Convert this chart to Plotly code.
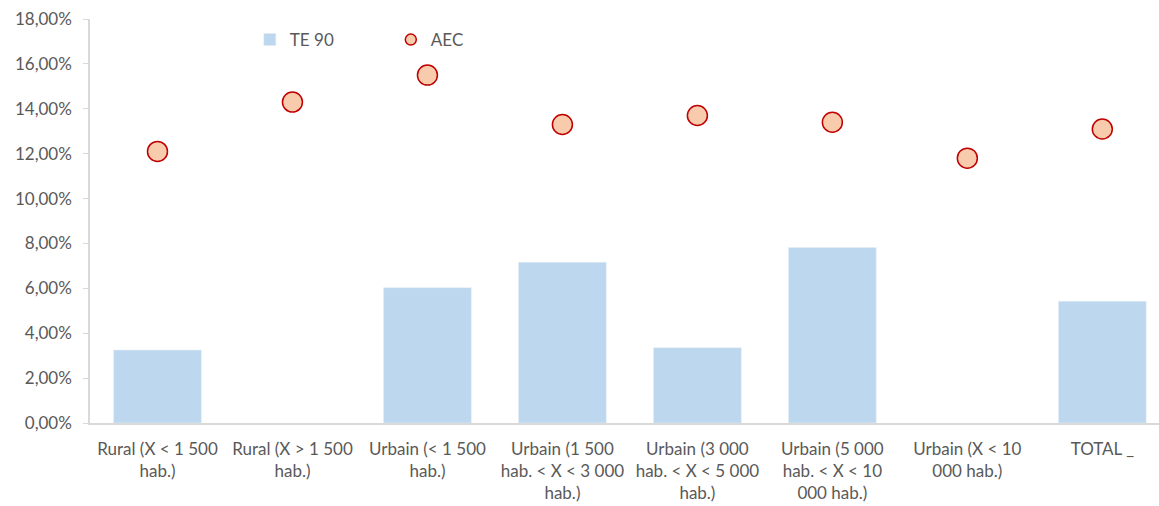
import plotly.graph_objects as go

categories = [
    "Rural (X < 1 500<br>hab.)",
    "Rural (X > 1 500<br>hab.)",
    "Urbain (< 1 500<br>hab.)",
    "Urbain (1 500<br>hab. < X < 3 000<br>hab.)",
    "Urbain (3 000<br>hab. < X < 5 000<br>hab.)",
    "Urbain (5 000<br>hab. < X < 10<br>000 hab.)",
    "Urbain (X < 10<br>000 hab.)",
    "TOTAL _",
]
te90 = [0.0325, None, 0.0603, 0.0716, 0.0335, 0.0782, None, 0.0542]
aec = [0.1210, 0.1430, 0.1550, 0.1330, 0.1370, 0.1340, 0.1180, 0.1310]
yticks = [0, 0.02, 0.04, 0.06, 0.08, 0.10, 0.12, 0.14, 0.16, 0.18]

fig = go.Figure()
fig.add_trace(go.Bar(
    x=list(range(len(categories))), y=te90, name="TE 90",
    marker=dict(color="#BDD7EE"), width=0.65,
))
fig.add_trace(go.Scatter(
    x=list(range(len(categories))), y=aec, name="AEC", mode="markers",
    marker=dict(size=20, color="#F8CBAD", line=dict(color="#C00000", width=1.5)),
    showlegend=False,
))
# legend proxy with smaller symbol
fig.add_trace(go.Scatter(
    x=[None], y=[None], name="AEC", mode="markers",
    marker=dict(size=11, color="#F8CBAD", line=dict(color="#C00000", width=1.5)),
))

font = dict(family="Lato, Open Sans, sans-serif", size=17, color="#595959")
fig.update_layout(
    width=1159, height=506,
    margin=dict(l=90, r=0, t=19, b=83),
    paper_bgcolor="white", plot_bgcolor="white",
    separators=", ",
    font=font,
    showlegend=True,
    legend=dict(orientation="h", x=0.1495, y=0.948, xanchor="left", yanchor="middle",
                itemwidth=30, entrywidth=96, font=font, bgcolor="rgba(0,0,0,0)"),
)
fig.update_xaxes(
    tickmode="array", tickvals=list(range(len(categories))), ticktext=categories,
    range=[-0.5, 7.42], showline=True, linecolor="#D9D9D9", linewidth=1.5,
    ticks="", showgrid=False, zeroline=False, tickfont=font, ticklabelstandoff=10,
)
fig.update_yaxes(
    range=[0, 0.18], tickvals=yticks, tickformat=".2%",
    showline=True, linecolor="#D9D9D9", linewidth=1.5,
    ticks="outside", ticklen=5, tickcolor="#D9D9D9",
    showgrid=False, zeroline=False, tickfont=font, ticklabelstandoff=8,
)

fig.write_html("out.html")
